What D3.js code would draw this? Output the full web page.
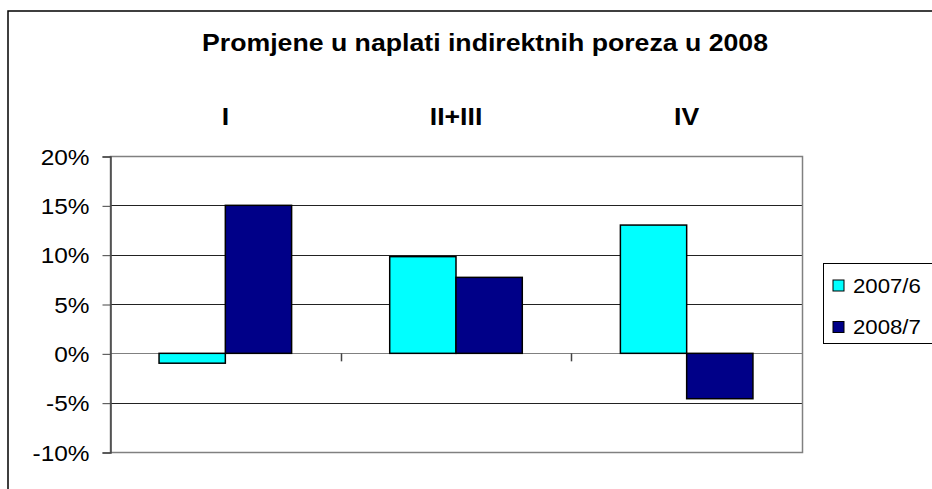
<!DOCTYPE html>
<html>
<head>
<meta charset="utf-8">
<title>Promjene u naplati indirektnih poreza u 2008</title>
<script src="https://d3js.org/d3.v7.min.js"></script>
<style>
  body { margin: 0; padding: 0; background: #fff; }
  svg text { font-family: "Liberation Sans", Arial, sans-serif; fill: #000; }
</style>
</head>
<body>
<div id="chart"></div>
<script>
// data
var categories = ["I", "II+III", "IV"];
var seriesNames = ["2007/6", "2008/7"];
var values2007 = [-1.0, 9.8, 13.0];
var values2008 = [15.0, 7.7, -4.6];
var yTicks = [-10, -5, 0, 5, 10, 15, 20];
var seriesColors = ["#00FFFF", "#000088"];

var W = 932, H = 489;
var plot = {left: 110, right: 802, top: 156, bottom: 452};
var sx = 1.11; // picture is stretched a little horizontally

var svg = d3.select("#chart").append("svg")
  .attr("width", W).attr("height", H);

// outer chart frame
svg.append("rect")
  .attr("x", 8).attr("y", 11)
  .attr("width", 960).attr("height", 500)
  .attr("fill", "#fff").attr("stroke", "#000").attr("stroke-width", 1.5);

// title
svg.append("text")
  .attr("x", 485).attr("y", 51)
  .attr("text-anchor", "middle")
  .attr("font-size", 23).attr("font-weight", "bold")
  .attr("textLength", 566).attr("lengthAdjust", "spacingAndGlyphs")
  .text("Promjene u naplati indirektnih poreza u 2008");

var y = d3.scaleLinear().domain([-10, 20]).range([plot.bottom, plot.top]);
var x0 = d3.scaleBand().domain(categories).range([plot.left, plot.right]).padding(0);
var x1 = d3.scaleBand().domain(seriesNames).range([0, x0.bandwidth()])
  .paddingInner(0).paddingOuter(0.74);

var rows = categories.map(function(c, i) {
  return {cat: c, vals: [values2007[i], values2008[i]]};
});

// category labels above the plot
svg.append("g").selectAll("text")
  .data(categories)
  .enter().append("text")
    .attr("transform", function(d) {
      return "translate(" + (x0(d) + x0.bandwidth() / 2) + ",125) scale(" + sx + ",1)";
    })
    .attr("text-anchor", "middle")
    .attr("font-size", 24).attr("font-weight", "bold")
    .text(function(d) { return d; });

// gridlines
svg.append("g").selectAll("line")
  .data(yTicks)
  .enter().append("line")
    .attr("x1", plot.left).attr("x2", plot.right)
    .attr("y1", function(d) { return Math.round(y(d)) + 0.5; })
    .attr("y2", function(d) { return Math.round(y(d)) + 0.5; })
    .attr("stroke", function(d) { return d === 20 || d === -10 || d === 0 ? "#808080" : "#222"; })
    .attr("stroke-width", 1);

// plot border (gray)
svg.append("rect")
  .attr("x", plot.left + 0.5).attr("y", Math.round(y(20)) + 0.5)
  .attr("width", plot.right - plot.left)
  .attr("height", Math.round(y(-10)) - Math.round(y(20)))
  .attr("fill", "none").attr("stroke", "#808080").attr("stroke-width", 1.5);

// y axis
var yAxis = svg.append("g")
  .attr("transform", "translate(" + (plot.left + 0.5) + ",0.5)")
  .call(d3.axisLeft(y).tickValues(yTicks).tickSize(8).tickFormat(function(d) { return d + "%"; }));
yAxis.select(".domain").attr("stroke", "#444").attr("stroke-width", 1.5);
yAxis.selectAll(".tick line").attr("stroke", "#444");
yAxis.selectAll(".tick text")
  .attr("font-size", 22)
  .attr("font-family", "Liberation Sans, Arial, sans-serif")
  .attr("x", -21 / sx)
  .attr("dy", "0.35em")
  .attr("transform", "scale(" + sx + ",1)");

// category tick marks on the zero line
svg.append("g").selectAll("line")
  .data(categories.slice(1))
  .enter().append("line")
    .attr("x1", function(d) { return Math.round(x0(d)) + 0.5; })
    .attr("x2", function(d) { return Math.round(x0(d)) + 0.5; })
    .attr("y1", y(0)).attr("y2", y(0) + 8)
    .attr("stroke", "#444").attr("stroke-width", 1.5);

// bars
var groups = svg.append("g").selectAll("g")
  .data(rows)
  .enter().append("g")
    .attr("transform", function(d) { return "translate(" + x0(d.cat) + ",0)"; });

groups.selectAll("rect")
  .data(function(d) { return d.vals.map(function(v, i) { return {name: seriesNames[i], v: v, i: i}; }); })
  .enter().append("rect")
    .attr("x", function(d) { return x1(d.name); })
    .attr("y", function(d) { return y(Math.max(0, d.v)); })
    .attr("width", x1.bandwidth())
    .attr("height", function(d) { return Math.abs(y(d.v) - y(0)); })
    .attr("fill", function(d) { return seriesColors[d.i]; })
    .attr("stroke", "#000").attr("stroke-width", 1.5);

// legend
var legend = svg.append("g");
legend.append("rect")
  .attr("x", 823.5).attr("y", 263.5)
  .attr("width", 140).attr("height", 80)
  .attr("fill", "#fff").attr("stroke", "#000").attr("stroke-width", 1);

var items = legend.selectAll(".item")
  .data(seriesNames)
  .enter().append("g")
    .attr("class", "item")
    .attr("transform", function(d, i) { return "translate(833," + (280 + i * 41.5) + ")"; });
items.append("rect")
  .attr("width", 11).attr("height", 11)
  .attr("fill", function(d, i) { return seriesColors[i]; })
  .attr("stroke", "#000").attr("stroke-width", 1);
items.append("text")
  .attr("transform", "translate(20,12.5) scale(" + sx + ",1)")
  .attr("font-size", 20)
  .text(function(d) { return d; });
</script>
</body>
</html>
